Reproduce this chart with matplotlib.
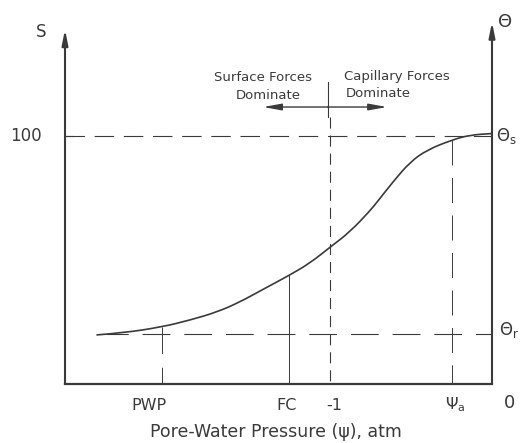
import numpy as np
import matplotlib
matplotlib.use("Agg")
import matplotlib.pyplot as plt
from matplotlib.path import Path
from matplotlib.patches import PathPatch

plt.rcParams['font.family'] = ['DejaVu Sans']
plt.rcParams['lines.scale_dashes'] = False

# retention curve, x in % of axis width (PWP side -> 0 atm), S in %
curve_x = [7.5, 13.6, 22.7, 29.3, 35.6, 41.0, 46.4, 52.5, 57.4, 62.1, 66.7,
           71.4, 73.1, 76.8, 80.8, 84.8, 90.6, 94.8, 100.0]
curve_s = [19.8, 20.6, 23.0, 25.8, 29.0, 33.1, 38.2, 43.8, 48.8, 55.2, 61.3,
           69.8, 73.4, 81.5, 89.5, 94.4, 98.4, 100.4, 101.0]

theta_s = 100.0
theta_r = 20.2
pwp_x, pwp_s = 22.7, 23.0
fc_x, fc_s = 52.5, 43.8
m1_x = 62.0
psia_x, psia_s = 90.6, 98.4

tick_x = [19.7, 51.8, 63.0, 91.3]
tick_labels = ["PWP", "FC", "-1", r"$\mathrm{\Psi}_{\mathrm{a}}$"]

ink = '#3a3a3a'


def smooth_path(xs, ys):
    # quadratic bezier through the midpoints, read points act as controls
    pts = np.column_stack([xs, ys])
    verts = [pts[0]]
    codes = [Path.MOVETO]
    for i in range(1, len(pts) - 1):
        mid = (pts[i] + pts[i + 1]) / 2
        verts += [pts[i], mid]
        codes += [Path.CURVE3, Path.CURVE3]
    verts.append(pts[-1])
    codes.append(Path.LINETO)
    return Path(verts, codes)


fig = plt.figure(figsize=(5.25, 4.43), dpi=100)
ax = fig.add_axes([65 / 525, 1 - 384 / 443, 427 / 525, 367 / 443])
ax.set_xlim(0, 100)
ax.set_ylim(0, 148)
ax.axis('off')

# axes frame with arrows
ax.plot([0, 100], [0, 0], color=ink, lw=1.6, clip_on=False)
ax.annotate('', xy=(0, 143), xytext=(0, 0),
            arrowprops=dict(arrowstyle='-|>,head_length=0.9,head_width=0.18',
                            color=ink, lw=1.5, shrinkA=0, shrinkB=0),
            annotation_clip=False)
ax.annotate('', xy=(100, 146), xytext=(100, 0),
            arrowprops=dict(arrowstyle='-|>,head_length=0.9,head_width=0.18',
                            color=ink, lw=1.5, shrinkA=0, shrinkB=0),
            annotation_clip=False)

# reference lines
ax.plot([0, 100], [theta_s, theta_s], color=ink, lw=0.8, ls=(0, (14, 7)))
ax.plot([0, 1.8], [theta_s, theta_s], color=ink, lw=0.8)
ax.plot([curve_x[0] + 2, 100], [theta_r, theta_r], color=ink, lw=0.8, ls=(4, (20, 10)))

ax.plot([pwp_x, pwp_x], [pwp_s, 0], color=ink, lw=0.7, ls=(0, (19, 10)))
ax.plot([fc_x, fc_x], [fc_s, 0], color=ink, lw=0.7)
ax.plot([m1_x, m1_x], [107.7, 0], color=ink, lw=0.8, ls=(0, (8, 5)))
ax.plot([m1_x - 0.5, m1_x - 0.5], [121.8, 107.7], color=ink, lw=0.8, clip_on=False)
ax.plot([psia_x, psia_x], [psia_s, 0], color=ink, lw=0.7, ls=(0, (18, 9)))

# curve
ax.add_patch(PathPatch(smooth_path(curve_x, curve_s), fill=False,
                       edgecolor=ink, lw=1.2, capstyle='round'))

# force arrows
for tip in (46.4, 75.4):
    ax.annotate('', xy=(tip, 111.7), xytext=(m1_x - 0.5, 111.7),
                arrowprops=dict(arrowstyle='-|>,head_length=1.1,head_width=0.2',
                                color=ink, lw=1.0, shrinkA=0, shrinkB=0))

txt = dict(color=ink, ha='center', va='center', clip_on=False)
ax.text(46.4, 123.5, "Surface Forces", fontsize=9.5, **txt)
ax.text(47.5, 116.5, "Dominate", fontsize=9.5, **txt)
ax.text(65.3, 124.0, "Capillary Forces", fontsize=9.5, color=ink, ha='left', va='center')
ax.text(65.8, 117.0, "Dominate", fontsize=9.5, color=ink, ha='left', va='center')

ax.text(-5.6, 142.0, "S", fontsize=12, **txt)
ax.text(-9.1, 100.0, "100", fontsize=12, **txt)
ax.text(103.0, 146.0, "Θ", fontsize=13, **txt)
ax.text(101.0, 100.0, r"Θ$_\mathrm{s}$", fontsize=12, color=ink, ha='left', va='center')
ax.text(101.6, 21.8, r"Θ$_\mathrm{r}$", fontsize=12, color=ink, ha='left', va='center')
ax.text(104.0, -7.7, "0", fontsize=13, **txt)

for x, lab in zip(tick_x, tick_labels):
    ax.text(x, -8.5, lab, fontsize=11.5, **txt)

ax.text(49.4, -19.4, "Pore-Water Pressure (ψ), atm", fontsize=12.5, **txt)

fig.savefig("out.png", dpi=100, facecolor='white')
